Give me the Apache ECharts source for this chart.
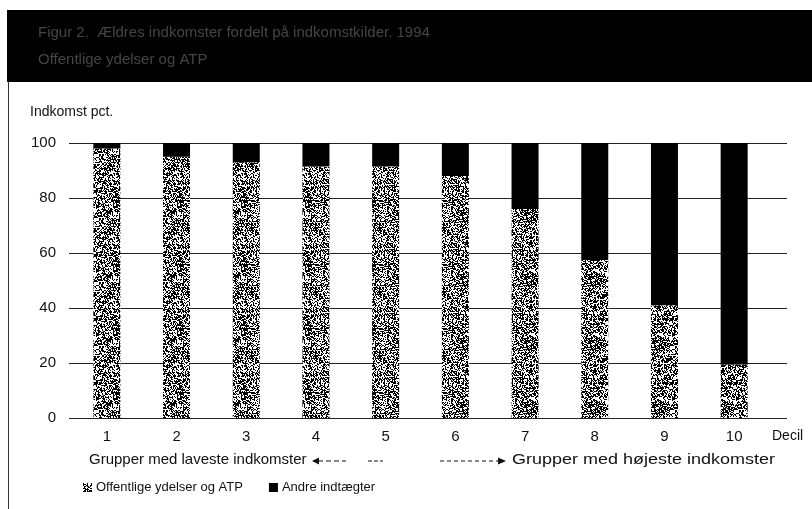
<!DOCTYPE html>
<html><head><meta charset="utf-8">
<script src="https://cdn.jsdelivr.net/npm/echarts@6/dist/echarts.min.js"></script>
<style>html,body{margin:0;padding:0;background:#fff}#c{width:812px;height:509px}</style>
</head><body><div id="c"></div>
<script>
const deciles = ['1','2','3','4','5','6','7','8','9','10'];
const offentlige = [98, 95, 93, 91.5, 91.5, 88, 76, 57.5, 41, 19.5];
const andre = [2, 5, 7, 8.5, 8.5, 12, 24, 42.5, 59, 80.5];
const yTicks = [0, 20, 40, 60, 80, 100];
const seriesNames = ['Offentlige ydelser og ATP', 'Andre indtægter'];

// stipple texture (deterministic)
function makeStipple() {
  const c = document.createElement('canvas');
  c.width = 64; c.height = 64;
  const ctx = c.getContext('2d');
  ctx.fillStyle = '#fff'; ctx.fillRect(0, 0, 64, 64);
  ctx.fillStyle = '#000';
  let s = 12345;
  for (let y = 0; y < 64; y++) for (let x = 0; x < 64; x++) {
    s = (s * 1103515245 + 12345) & 0x7fffffff;
    if ((s >> 8) % 100 < 52) ctx.fillRect(x, y, 1, 1);
  }
  return c;
}
const stipple = { image: makeStipple(), repeat: 'repeat' };

const FONT = 'Liberation Sans, Arial, sans-serif';
const chart = echarts.init(document.getElementById('c'), null, { renderer: 'canvas' });
chart.setOption({
  animation: false,
  backgroundColor: '#fff',
  textStyle: { fontFamily: FONT },
  grid: [
    { left: 72, right: 43, top: 143, bottom: 91 },
    { left: 69, right: 25, top: 143, bottom: 91 }
  ],
  xAxis: [
    { type: 'category', gridIndex: 0, data: deciles,
      axisLine: { show: false }, axisTick: { show: false },
      axisLabel: { color: '#111', fontSize: 15, margin: 11, fontFamily: FONT } },
    { type: 'value', gridIndex: 1, show: false, min: 0, max: 1 }
  ],
  yAxis: [
    { type: 'value', gridIndex: 0, min: 0, max: 100, interval: 20, show: false },
    { type: 'value', gridIndex: 1, min: 0, max: 100, interval: 20,
      axisLine: { show: false }, axisTick: { show: false },
      axisLabel: { color: '#111', fontSize: 15, margin: 13, fontFamily: FONT,
        customValues: yTicks },
      splitLine: { show: true, lineStyle: { color: '#222', width: 1 } } }
  ],
  legend: {
    left: 83, top: 481, padding: 0, itemWidth: 9, itemHeight: 9, itemGap: 26,
    icon: 'rect',
    textStyle: { color: '#111', fontSize: 13, fontFamily: FONT, padding: [0, 0, 0, -1] },
    data: seriesNames
  },
  series: [
    { name: seriesNames[0], type: 'bar', stack: 'a', xAxisIndex: 0, yAxisIndex: 0,
      barWidth: 27, data: offentlige, itemStyle: { color: stipple } },
    { name: seriesNames[1], type: 'bar', stack: 'a', xAxisIndex: 0, yAxisIndex: 0,
      barWidth: 27, data: andre, itemStyle: { color: '#000' } }
  ],
  graphic: [
    { type: 'rect', shape: { x: 7, y: 10, width: 805, height: 72 }, style: { fill: '#000' } },
    { type: 'line', shape: { x1: 8.5, y1: 82, x2: 8.5, y2: 509 }, style: { stroke: '#333', lineWidth: 1 } },
    { type: 'text', left: 38, top: 25, style: { text: 'Figur 2.  Ældres indkomster fordelt på indkomstkilder. 1994', fill: '#454545', font: '15px ' + FONT } },
    { type: 'text', left: 38, top: 52, style: { text: 'Offentlige ydelser og ATP', fill: '#454545', font: '15px ' + FONT } },
    { type: 'text', left: 30, top: 105, style: { text: 'Indkomst pct.', fill: '#111', font: '14px ' + FONT } },
    { type: 'text', left: 772, top: 429, style: { text: 'Decil', fill: '#111', font: '14px ' + FONT } },
    { type: 'text', x: 89, y: 452, style: { text: 'Grupper med laveste indkomster', fill: '#111', font: '15px ' + FONT } },
    { type: 'text', x: 512, y: 452, scaleX: 1.2, style: { text: 'Grupper med højeste indkomster', fill: '#111', font: '15px ' + FONT } },
    { type: 'polygon', shape: { points: [[312, 461], [319, 457.5], [319, 464.5]] }, style: { fill: '#111' } },
    { type: 'line', shape: { x1: 318, y1: 461, x2: 346, y2: 461 }, style: { stroke: '#111', lineWidth: 1.2, lineDash: [5, 3] } },
    { type: 'line', shape: { x1: 368, y1: 461, x2: 383, y2: 461 }, style: { stroke: '#111', lineWidth: 1.2, lineDash: [4, 2] } },
    { type: 'line', shape: { x1: 440, y1: 461, x2: 500, y2: 461 }, style: { stroke: '#111', lineWidth: 1, lineDash: [4, 3] } },
    { type: 'polygon', shape: { points: [[506, 461], [498, 457.5], [498, 464.5]] }, style: { fill: '#111' } }
  ]
});
</script></body></html>
